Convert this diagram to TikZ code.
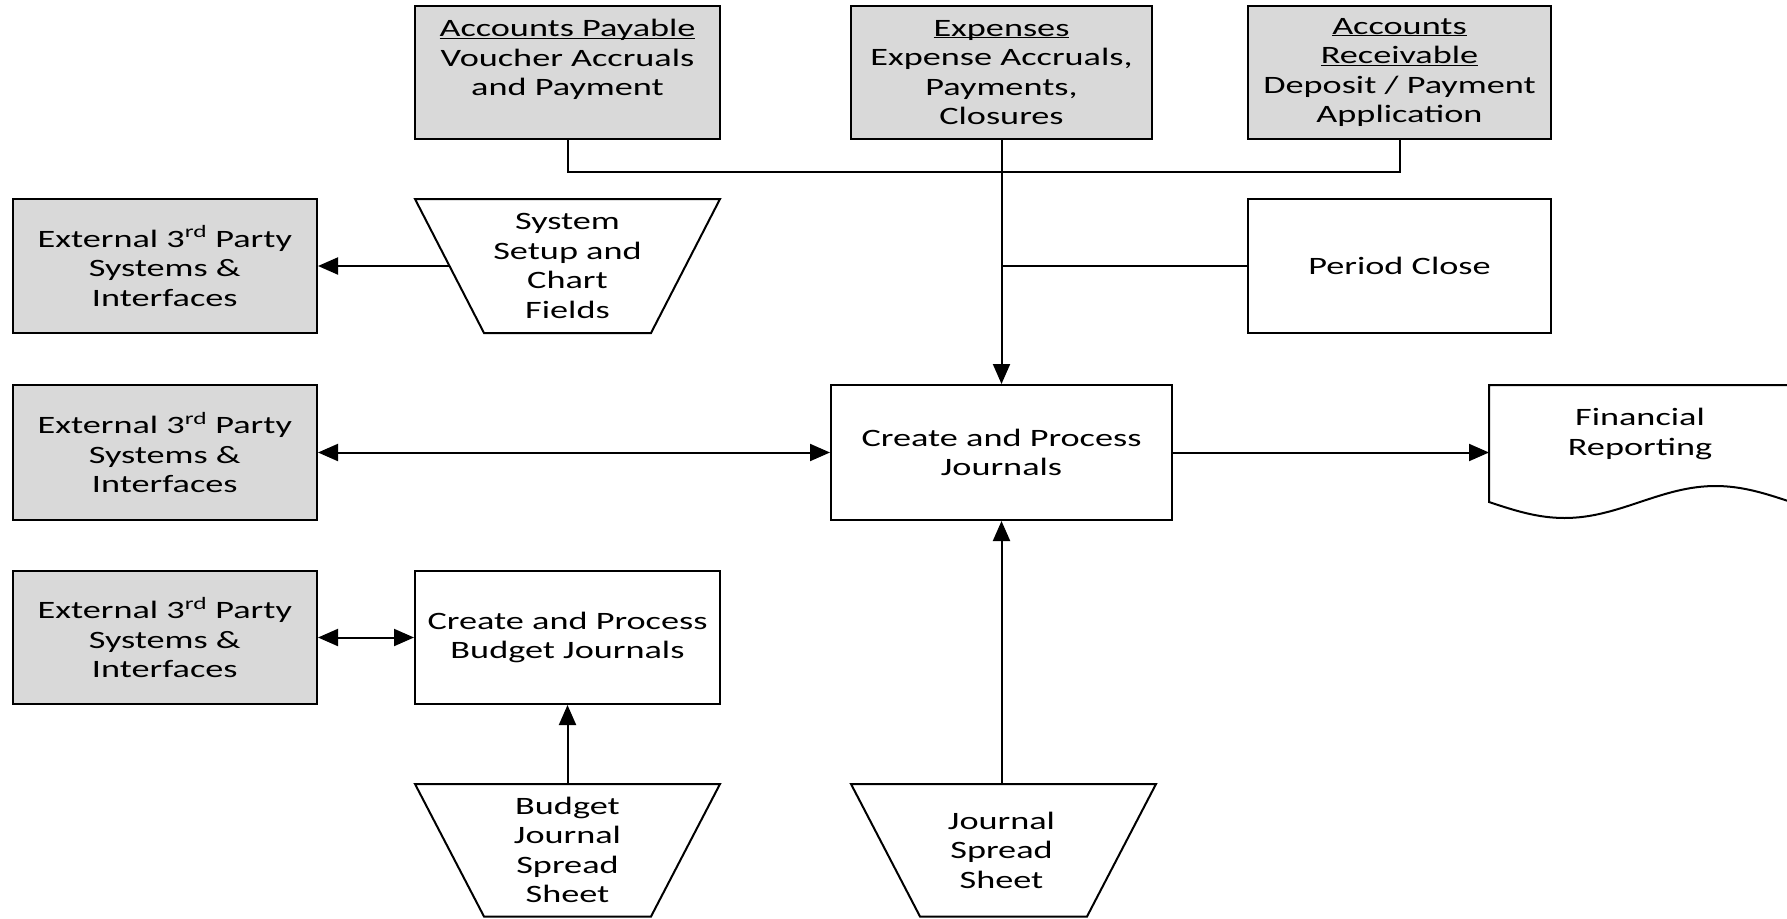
\documentclass[tikz,border=0pt]{standalone}
\usepackage{fontspec}
\setmainfont{Carlito}[FakeStretch=1.45]
\usetikzlibrary{arrows.meta}
\definecolor{boxgray}{HTML}{D9D9D9}
% underline sitting just under the baseline, keeping the line's height
\newcommand\ulin[1]{\underline{\smash{#1}}\vphantom{#1}}
\begin{document}
\begin{tikzpicture}[x=1pt,y=-1pt,
  every node/.style={font=\fontsize{25}{29.5}\selectfont, align=center, inner sep=0pt},
  proc/.style={draw, line width=2pt, minimum width=305pt, minimum height=134pt},
  extbox/.style={proc, fill=boxgray},
  link/.style={line width=2pt},
  flow/.style={line width=2pt, -{Triangle[length=20pt,width=17pt]}},
  dflow/.style={line width=2pt, {Triangle[length=20pt,width=17pt]}-{Triangle[length=20pt,width=17pt]}},
  trap/.style={draw, line width=2pt, line join=miter}]
\useasboundingbox (0,0) rectangle (1787,918);
\clip (0,0) rectangle (1787,918);

% top row: feeder modules
\node[extbox, minimum height=133pt] (ap) at (567.5,72.5)
  {\ulin{Accounts Payable}\\Voucher Accruals\\and Payment\\\mbox{}};
\node[extbox, minimum width=301pt, minimum height=133pt] (exp) at (1001.5,72.5)
  {\ulin{Expenses}\\Expense Accruals,\\Payments,\\Closures};
\node[extbox, minimum width=303pt, minimum height=133pt] (ar) at (1399.5,72.5)
  {\ulin{Accounts}\\\ulin{Receivable}\\Deposit / Payment\\Application};

% external systems
\node[extbox, minimum width=304.5pt] (ext1) at (164.75,266)
  {External 3\textsuperscript{rd} Party\\Systems \&\\Interfaces};
\node[extbox, minimum width=304.5pt, minimum height=135pt] (ext2) at (164.75,452.5)
  {External 3\textsuperscript{rd} Party\\Systems \&\\Interfaces};
\node[extbox, minimum width=304.5pt, minimum height=133pt] (ext3) at (164.75,637.5)
  {External 3\textsuperscript{rd} Party\\Systems \&\\Interfaces};

% process boxes
\node[proc, minimum width=303pt] (period) at (1399.5,266) {Period Close};
\node[proc, minimum width=341pt, minimum height=135pt] (journals) at (1001.5,452.5)
  {Create and Process\\Journals};
\node[proc, minimum height=133pt] (budget) at (567.5,637.5)
  {Create and Process\\Budget Journals};

% manual input shapes
\draw[trap] (415,199) -- (720,199) -- (651,333) -- (484,333) -- cycle;
\node (setup) at (567.5,266) {System\\Setup and\\Chart\\Fields};
\coordinate (setupW) at (449.5,266);

\draw[trap] (415,784) -- (720,784) -- (651,916.5) -- (484,916.5) -- cycle;
\node (bjss) at (567.5,850) {Budget\\Journal\\Spread\\Sheet};
\coordinate (bjssN) at (567.5,784);

\draw[trap] (851,784) -- (1156,784) -- (1087,916.5) -- (920,916.5) -- cycle;
\node (jss) at (1001.5,850) {Journal\\Spread\\Sheet};
\coordinate (jssN) at (1001.5,784);

% document shape
\draw[line width=2pt, line join=miter] (1791,385) -- (1489,385) -- (1489,502)
  sin (1564.5,518) cos (1640,502) sin (1715.5,486) cos (1791,502) -- cycle;
\node (finrep) at (1640,434) {Financial\\Reporting};
\coordinate (finW) at (1489,452.5);

% connectors
\coordinate (bus) at (0,172);
\draw[link] (ap.south) -- (ap.south |- bus) -| (ar.south);
\draw[flow] (exp.south) -- (journals.north);
\draw[link] (period.west) -- (period.west -| exp.south);
\draw[flow] (setupW) -- (ext1.east);
\draw[dflow] (ext2.east) -- (journals.west);
\draw[flow] (journals.east) -- (finW);
\draw[dflow] (ext3.east) -- (budget.west);
\draw[flow] (bjssN) -- (budget.south);
\draw[flow] (jssN) -- (journals.south);
\end{tikzpicture}
\end{document}
